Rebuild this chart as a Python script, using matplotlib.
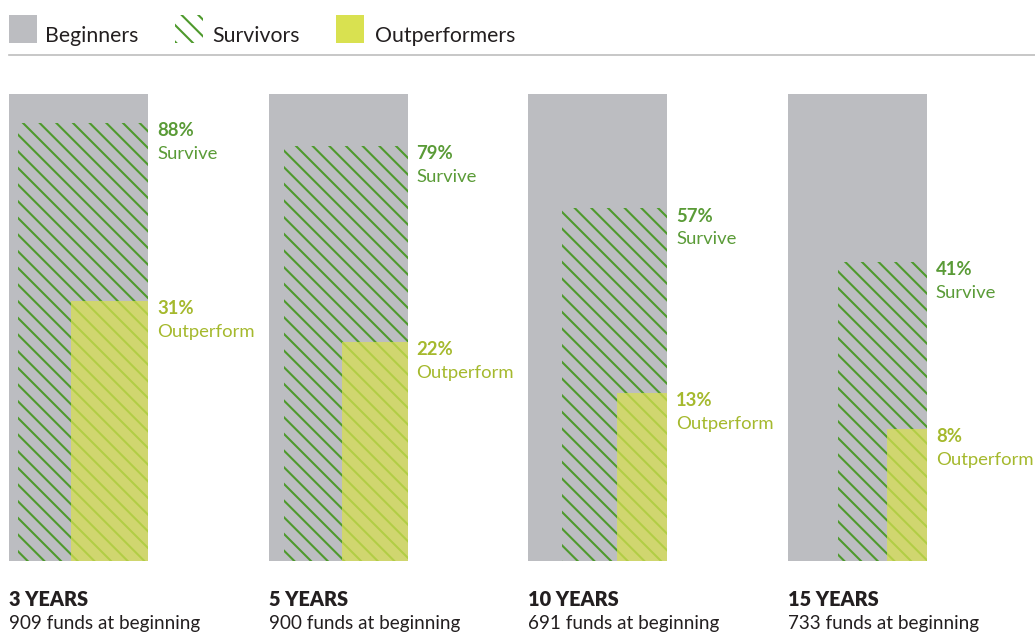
import matplotlib
matplotlib.use("Agg")
import matplotlib.pyplot as plt
from matplotlib.patches import Rectangle
import numpy as np

periods = ["3 YEARS", "5 YEARS", "10 YEARS", "15 YEARS"]
funds = [909, 900, 691, 733]
survive = [88, 79, 57, 41]
outperform = [31, 22, 13, 8]

GRAY = "#bcbdc1"
GREEN = "#4e9a2c"
GREEN_TXT = "#5a9b37"
YELLOW = "#d9e150"
OLIVE_TXT = "#a5b92d"

plt.rcParams["font.family"] = ["Lato", "DejaVu Sans"]
plt.rcParams["hatch.linewidth"] = 1.5

fig = plt.figure(figsize=(10.35, 6.34), dpi=100)
ax = fig.add_axes([0, 0, 1, 1])
ax.set_xlim(0, 1035)
ax.set_ylim(634, 0)
ax.axis("off")

# panel geometry (pixels)
x0, step = 9, 259.6
full_w, full_h, base = 139, 467, 561
fs = 13.3

for i in range(len(periods)):
    left = x0 + i * step
    right = left + full_w
    # beginners = 100%
    ax.add_patch(Rectangle((left, base - full_h), full_w, full_h, facecolor=GRAY, lw=0))
    # area-proportional boxes anchored bottom-right
    s = np.sqrt(survive[i] / 100)
    w, h = full_w * s, full_h * s
    ax.add_patch(Rectangle((right - w, base - h), w, h, facecolor="none",
                           edgecolor=GREEN, hatch="\\\\", lw=0))
    ax.text(right + 9, base - h + 8, f"{survive[i]}%", color=GREEN_TXT,
            fontsize=fs, fontweight="bold", va="center", ha="left")
    ax.text(right + 9, base - h + 31, "Survive", color=GREEN_TXT,
            fontsize=fs, va="center", ha="left")
    o = np.sqrt(outperform[i] / 100)
    w, h = full_w * o, full_h * o
    ax.add_patch(Rectangle((right - w, base - h), w, h, facecolor=YELLOW,
                           alpha=0.72, lw=0))
    ax.text(right + 9, base - h + 8, f"{outperform[i]}%", color=OLIVE_TXT,
            fontsize=fs, fontweight="bold", va="center", ha="left")
    ax.text(right + 9, base - h + 31, "Outperform", color=OLIVE_TXT,
            fontsize=fs, va="center", ha="left")
    ax.text(left, 599, periods[i], color="#231f20", fontsize=14.3,
            fontweight="heavy", va="center", ha="left")
    ax.text(left, 623, f"{funds[i]} funds at beginning", color="#231f20",
            fontsize=13.6, va="center", ha="left")

# legend
legend_items = [("Beginners", 45), ("Survivors", 212), ("Outperformers", 375)]
ax.add_patch(Rectangle((9, 15), 28, 28, facecolor=GRAY, lw=0))
ax.add_patch(Rectangle((175, 15), 28, 28, facecolor="white", edgecolor=GREEN,
                       hatch="\\\\", lw=0))
ax.add_patch(Rectangle((336, 15), 28, 28, facecolor=YELLOW, lw=0))
for name, tx in legend_items:
    ax.text(tx, 36, name, color="#231f20", fontsize=15.3, va="center", ha="left")
ax.plot([9, 1035], [55, 55], color="#bdbdbd", lw=1.2)

fig.savefig("out.png", dpi=100)
